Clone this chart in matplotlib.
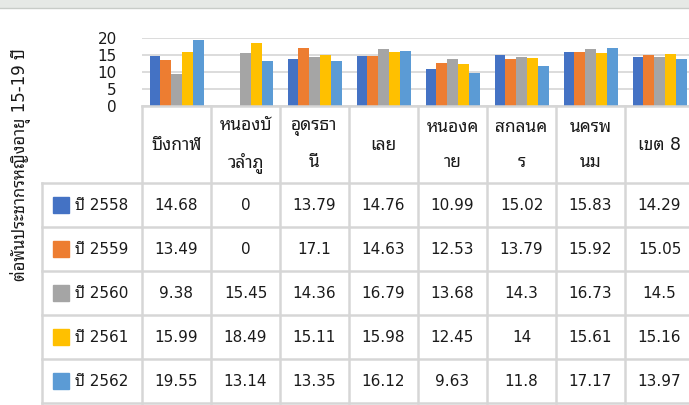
import matplotlib
matplotlib.use("Agg")
import numpy as np
import matplotlib.pyplot as plt
from matplotlib.patches import Rectangle

# DejaVu for digits (Tahoma-like width), Thai glyphs fall back to Noto Sans Thai Looped
plt.rcParams['font.family'] = ['DejaVu Sans', 'Noto Sans Thai Looped']

# data
categories = ["บึงกาฬ", "หนองบั\nวลำภู", "อุดรธา\nนี", "เลย",
              "หนองค\nาย", "สกลนค\nร", "นครพ\nนม", "เขต 8"]
series_names = ["ปี 2558", "ปี 2559", "ปี 2560", "ปี 2561", "ปี 2562"]
y2558 = [14.68, 0, 13.79, 14.76, 10.99, 15.02, 15.83, 14.29]
y2559 = [13.49, 0, 17.1, 14.63, 12.53, 13.79, 15.92, 15.05]
y2560 = [9.38, 15.45, 14.36, 16.79, 13.68, 14.3, 16.73, 14.5]
y2561 = [15.99, 18.49, 15.11, 15.98, 12.45, 14, 15.61, 15.16]
y2562 = [19.55, 13.14, 13.35, 16.12, 9.63, 11.8, 17.17, 13.97]
colors = ["#4472C4", "#ED7D31", "#A5A5A5", "#FFC000", "#5B9BD5"]
ylabel = "ต่อพันประชากรหญิงอายุ 15-19 ปี"
yticks = [0, 5, 10, 15, 20]

series = [y2558, y2559, y2560, y2561, y2562]

W, H = 689, 405
fig = plt.figure(figsize=(W / 100, H / 100), dpi=100)

# layout in pixels
col0 = 142      # left edge of first category column
colw = 69       # width of one category column
leg0 = 42       # left edge of legend column
base = 106      # y of zero line / table top
top = 38        # y of 20 gridline
head_h = 77
row_h = 44
grid_c = "#d6d6d6"
txt_c = "#1a1a1a"


def fx(x):
    return x / W


def fy(y):
    return 1 - y / H


# bar chart
ax = fig.add_axes([fx(col0), fy(base), len(categories) * colw / W, (base - top) / H])
n = len(series)
group = 54 / colw
bw = group / n
x = np.arange(len(categories)) + 0.5
for i, (vals, c) in enumerate(zip(series, colors)):
    ax.bar(x - group / 2 + bw * (i + 0.5), vals, bw, color=c, zorder=3)
ax.set_xlim(0, len(categories))
ax.set_ylim(0, 20)
ax.set_yticks(yticks)
ax.set_yticklabels([str(t) for t in yticks], fontsize=11, color=txt_c)
ax.tick_params(axis="y", length=0, pad=18)
ax.tick_params(axis="x", length=0, labelbottom=False)
ax.grid(axis="y", color=grid_c, linewidth=1.2, zorder=0)
for s in ["top", "right", "left", "bottom"]:
    ax.spines[s].set_visible(False)

# overlay for table, strip and label
ov = fig.add_axes([0, 0, 1, 1])
ov.set_xlim(0, W)
ov.set_ylim(H, 0)
ov.axis("off")
ov.patch.set_alpha(0)

# top grey strip
ov.add_patch(Rectangle((0, 0), W, 7, color="#e6e9e6", zorder=1))
ov.plot([0, W], [7.5, 7.5], color="#c8ccc8", lw=1)

# table lines
right = col0 + len(categories) * colw
rows_y = [base + head_h + k * row_h for k in range(len(series) + 1)]
lw = 1.8
ov.plot([col0, right], [base, base], color=grid_c, lw=lw)
for yy in rows_y:
    ov.plot([leg0, right], [yy, yy], color=grid_c, lw=lw)
ov.plot([leg0, leg0], [rows_y[0], rows_y[-1]], color=grid_c, lw=lw)
for k in range(len(categories) + 1):
    xx = col0 + k * colw
    ov.plot([xx, xx], [base, rows_y[-1]], color=grid_c, lw=lw)

# header
for k, cat in enumerate(categories):
    ov.text(col0 + (k + 0.5) * colw, base + head_h / 2, cat, ha="center", va="center",
            fontsize=12.5, color=txt_c, linespacing=2.25)

# rows
for r, (name, vals, c) in enumerate(zip(series_names, series, colors)):
    yc = rows_y[r] + row_h / 2
    ov.add_patch(Rectangle((53, yc - 8), 16, 16, color=c))
    ov.text(75, yc, name, ha="left", va="center", fontsize=11, color=txt_c)
    for k, v in enumerate(vals):
        ov.text(col0 + (k + 0.5) * colw, yc, f"{v:g}", ha="center", va="center",
                fontsize=11, color=txt_c)

# axis title
ov.text(21, 165, ylabel, rotation=90, ha="center", va="center", fontsize=12, color=txt_c)

fig.savefig("out.png", dpi=100)
